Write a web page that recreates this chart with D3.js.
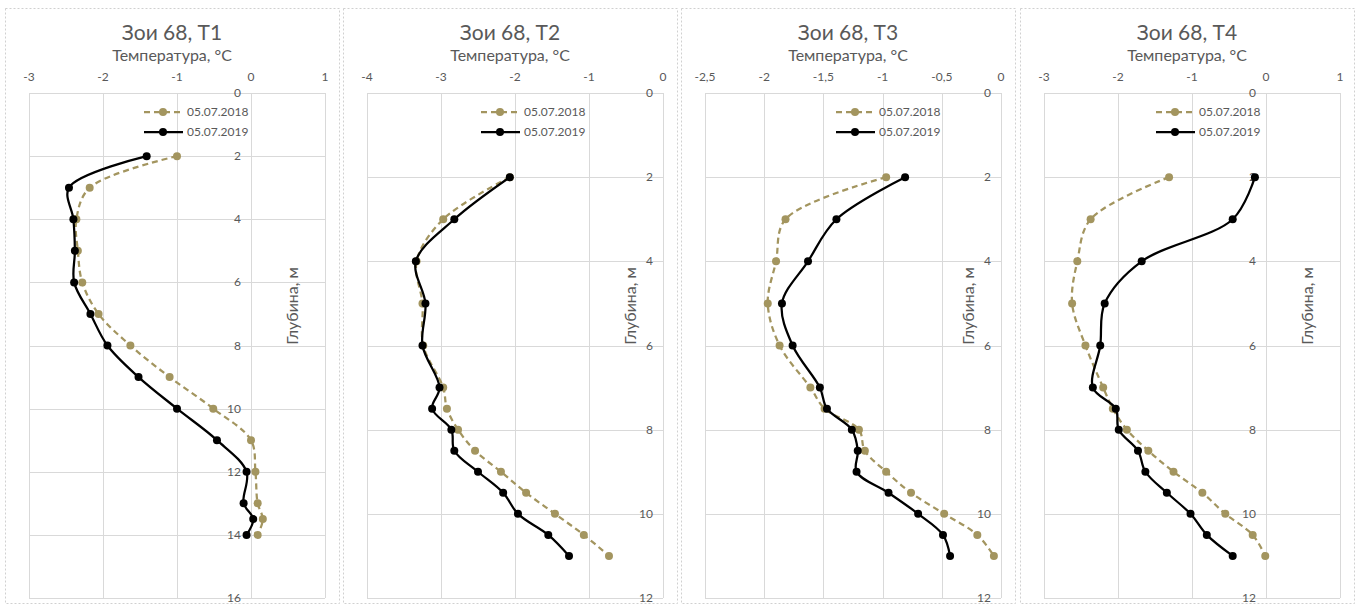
<!DOCTYPE html>
<html>
<head>
<meta charset="utf-8">
<script src="https://cdn.jsdelivr.net/npm/d3@7"></script>
<style>
  body { margin: 0; background: #fff; }
  svg text { font-family: Lato, "Open Sans", sans-serif; fill: #595959; }
</style>
</head>
<body>
<div id="chart"></div>
<script>
// depths (m) for each panel
var depthT1 = [2, 3, 4, 5, 6, 7, 8, 9, 10, 11, 12, 13, 13.5, 14];
var depthT234 = [2, 3, 4, 5, 6, 7, 7.5, 8, 8.5, 9, 9.5, 10, 10.5, 11];

// temperature values, °C
var t1_2018 = [-1.00, -2.18, -2.36, -2.34, -2.28, -2.06, -1.63, -1.10, -0.51, 0.00, 0.06, 0.09, 0.16, 0.09];
var t1_2019 = [-1.41, -2.46, -2.40, -2.38, -2.39, -2.17, -1.94, -1.52, -1.00, -0.46, -0.06, -0.10, 0.03, -0.06];
var t2_2018 = [-2.07, -2.97, -3.33, -3.25, -3.24, -2.97, -2.92, -2.77, -2.54, -2.19, -1.85, -1.46, -1.07, -0.73];
var t2_2019 = [-2.07, -2.82, -3.34, -3.21, -3.25, -3.02, -3.12, -2.86, -2.82, -2.50, -2.16, -1.96, -1.55, -1.27];
var t3_2018 = [-0.97, -1.82, -1.90, -1.97, -1.87, -1.61, -1.49, -1.20, -1.15, -0.97, -0.76, -0.48, -0.20, -0.06];
var t3_2019 = [-0.81, -1.39, -1.63, -1.85, -1.76, -1.53, -1.47, -1.26, -1.21, -1.22, -0.95, -0.70, -0.49, -0.43];
var t4_2018 = [-1.31, -2.37, -2.55, -2.62, -2.44, -2.20, -2.07, -1.88, -1.59, -1.25, -0.86, -0.55, -0.18, -0.01];
var t4_2019 = [-0.15, -0.45, -1.68, -2.18, -2.24, -2.34, -2.03, -1.99, -1.73, -1.63, -1.34, -1.02, -0.80, -0.45];

var titles = ["Зои 68, T1", "Зои 68, T2", "Зои 68, T3", "Зои 68, T4"];
var seriesNames = ["05.07.2018", "05.07.2019"];
var xTicksT1 = [-3, -2, -1, 0, 1];
var xTicksT2 = [-4, -3, -2, -1, 0];
var xTicksT3 = [-2.5, -2, -1.5, -1, -0.5, 0];
var xTicksT4 = [-3, -2, -1, 0, 1];
var yTicksT1 = [0, 2, 4, 6, 8, 10, 12, 14, 16];
var yTicksT234 = [0, 2, 4, 6, 8, 10, 12];

var width = 1359, height = 606;
var color2018 = "#a3955f", color2019 = "#000000", gridColor = "#d9d9d9";

var panels = [
  {left: 5,    title: titles[0], depth: depthT1,   s18: t1_2018, s19: t1_2019, xTicks: xTicksT1, yTicks: yTicksT1, legendX: 144},
  {left: 343,  title: titles[1], depth: depthT234, s18: t2_2018, s19: t2_2019, xTicks: xTicksT2, yTicks: yTicksT234, legendX: 481},
  {left: 681,  title: titles[2], depth: depthT234, s18: t3_2018, s19: t3_2019, xTicks: xTicksT3, yTicks: yTicksT234, legendX: 836},
  {left: 1020, title: titles[3], depth: depthT234, s18: t4_2018, s19: t4_2019, xTicks: xTicksT4, yTicks: yTicksT234, legendX: 1156}
];

var svg = d3.select("#chart").append("svg")
  .attr("width", width).attr("height", height);

var fmt = function(v) { return String(v).replace(".", ","); };

function drawPanel(p) {
  var g = svg.append("g");
  var panelW = 334;
  // dotted frame round each chart
  g.append("rect")
    .attr("x", p.left + 0.5).attr("y", 8.5)
    .attr("width", panelW).attr("height", 595)
    .attr("fill", "none").attr("stroke", "#d0d0d0")
    .attr("stroke-dasharray", "2,2");

  var plotL = p.left + 24, plotR = plotL + 296, plotT = 93, plotB = 598;
  var x = d3.scaleLinear().domain(d3.extent(p.xTicks)).range([plotL, plotR]);
  var y = d3.scaleLinear().domain(d3.extent(p.yTicks)).range([plotT, plotB]);

  // grid
  g.selectAll(".vg").data(p.xTicks).enter().append("line")
    .attr("x1", d => Math.round(x(d)) + 0.5).attr("x2", d => Math.round(x(d)) + 0.5)
    .attr("y1", plotT).attr("y2", plotB)
    .attr("stroke", gridColor);
  g.selectAll(".hg").data(p.yTicks).enter().append("line")
    .attr("x1", plotL).attr("x2", plotR)
    .attr("y1", d => Math.round(y(d)) + 0.5).attr("y2", d => Math.round(y(d)) + 0.5)
    .attr("stroke", gridColor);

  // x tick labels along the top
  g.selectAll(".xl").data(p.xTicks).enter().append("text")
    .attr("x", d => x(d)).attr("y", 81)
    .attr("text-anchor", "middle").style("font-size", "12px")
    .text(d => fmt(d));

  // y tick labels next to the axis at 0 °C
  var ax = x(0);
  g.selectAll(".yl").data(p.yTicks).enter().append("text")
    .attr("x", ax - 10).attr("y", d => y(d) + 4)
    .attr("text-anchor", "end").style("font-size", "12px")
    .text(d => d);

  // titles
  g.append("text").attr("x", p.left + panelW / 2).attr("y", 40)
    .attr("text-anchor", "middle").style("font-size", "21px")
    .text(p.title);
  g.append("text").attr("x", p.left + panelW / 2).attr("y", 61)
    .attr("text-anchor", "middle").style("font-size", "16px")
    .text("Температура, °C");
  g.append("text")
    .attr("transform", `translate(${p.left + 293}, 306) rotate(-90)`)
    .attr("text-anchor", "middle").style("font-size", "16px")
    .text("Глубина, м");

  var line = d3.line().curve(d3.curveCatmullRom.alpha(0.5))
    .x(d => x(d[0])).y(d => y(d[1]));

  var s18 = p.s18.map((v, i) => [v, p.depth[i]]);
  var s19 = p.s19.map((v, i) => [v, p.depth[i]]);

  g.append("path").datum(s18).attr("d", line)
    .attr("fill", "none").attr("stroke", color2018)
    .attr("stroke-width", 2.25).attr("stroke-dasharray", "6,4");
  g.selectAll(".m18").data(s18).enter().append("circle")
    .attr("cx", d => x(d[0])).attr("cy", d => y(d[1])).attr("r", 4)
    .attr("fill", color2018);

  g.append("path").datum(s19).attr("d", line)
    .attr("fill", "none").attr("stroke", color2019)
    .attr("stroke-width", 2.25);
  g.selectAll(".m19").data(s19).enter().append("circle")
    .attr("cx", d => x(d[0])).attr("cy", d => y(d[1])).attr("r", 4)
    .attr("fill", color2019);

  // legend
  var leg = [
    {name: seriesNames[0], color: color2018, dash: "6,4"},
    {name: seriesNames[1], color: color2019, dash: null}
  ];
  leg.forEach(function(l, i) {
    var ly = 112 + i * 20;
    g.append("line").attr("x1", p.legendX).attr("x2", p.legendX + 39)
      .attr("y1", ly).attr("y2", ly)
      .attr("stroke", l.color).attr("stroke-width", 2.25)
      .attr("stroke-dasharray", l.dash);
    g.append("circle").attr("cx", p.legendX + 19).attr("cy", ly).attr("r", 4)
      .attr("fill", l.color);
    g.append("text").attr("x", p.legendX + 43).attr("y", ly + 4)
      .style("font-size", "12px").text(l.name);
  });
}

panels.forEach(drawPanel);
</script>
</body>
</html>
